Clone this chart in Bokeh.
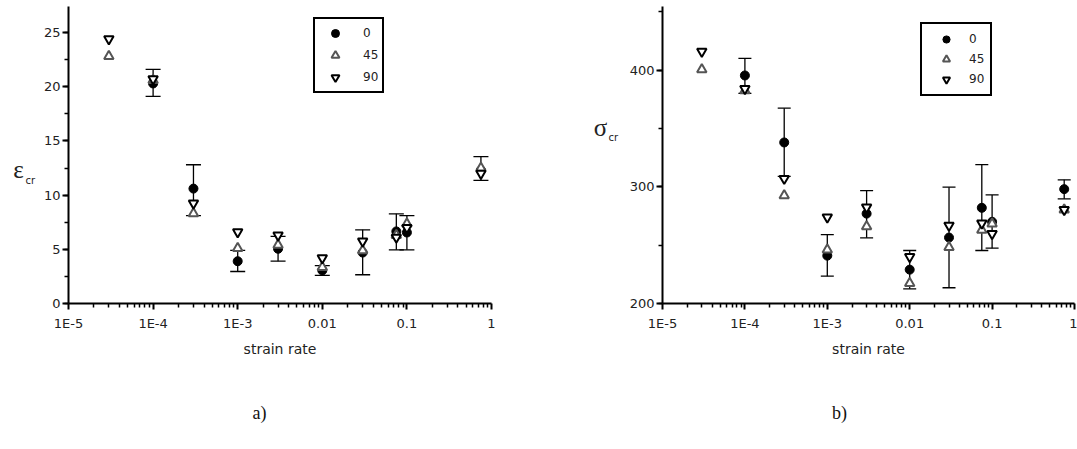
import math
from bokeh.plotting import figure
from bokeh.layouts import row, column
from bokeh.models import (ColumnDataSource, Whisker, TeeHead, Label, FixedTicker,
                          SingleIntervalTicker, CustomJSTickFormatter, Range1d)
from bokeh.embed import file_html
from bokeh.resources import INLINE

nan = float("nan")

# ---------------- data ----------------
strain_rate = [3e-5, 1e-4, 3e-4, 1e-3, 3e-3, 1e-2, 3e-2, 7.5e-2, 1e-1, 0.75]
series_labels = ["0", "45", "90"]
x_tick_values = [1e-5, 1e-4, 1e-3, 1e-2, 1e-1, 1.0]
x_tick_labels = ["1E-5", "1E-4", "1E-3", "0.01", "0.1", "1"]

# panel a) critical strain
eps_0 = [nan, 20.3, 10.6, 3.9, 5.05, 3.05, 4.7, 6.65, 6.55, 12.3]
eps_0_lo = [nan, 19.1, 8.1, 2.95, 3.9, 2.6, 2.65, 4.95, 4.95, 11.35]
eps_0_hi = [nan, 21.6, 12.8, 4.9, 6.2, 3.5, 6.8, 8.27, 8.1, 13.55]
eps_45 = [22.8, 20.6, 8.3, 5.1, 5.4, 3.35, 4.9, 6.3, 7.35, 12.5]
eps_90 = [24.4, 20.7, 9.25, 6.6, 6.3, 4.2, 5.75, 6.1, 7.0, 12.0]

# panel b) critical stress
sig_0 = [nan, 395.4, 338.0, 241.0, 277.0, 229.0, 256.5, 282.0, 270.0, 298.0]
sig_0_lo = [nan, 380.0, 309.0, 223.4, 256.3, 212.6, 213.5, 245.4, 247.4, 289.7]
sig_0_hi = [nan, 410.0, 367.4, 259.0, 296.8, 245.4, 299.7, 319.0, 293.0, 306.0]
sig_45 = [400.5, 382.5, 292.5, 246.0, 266.0, 217.4, 248.3, 263.0, 268.3, 280.3]
sig_90 = [416.0, 384.0, 307.0, 274.0, 282.5, 240.0, 266.8, 268.8, 259.7, 280.3]

TICK_FONT = "DejaVu Sans"
TXT = "#222222"
TOP, FRAME_H, BOTTOM = 6, 297, 67


def blank(width, height, bt=0, bb=0):
    f = figure(width=width, height=height, output_backend="svg", toolbar_location=None,
               x_axis_location=None, y_axis_location=None,
               min_border_left=0, min_border_right=0, min_border_top=bt, min_border_bottom=bb,
               x_range=Range1d(0, 1), y_range=Range1d(0, 1),
               background_fill_color="white", border_fill_color="white")
    f.outline_line_color = None
    f.xgrid.visible = False
    f.ygrid.visible = False
    return f


def ylabel_fig(width, sym, sym_pos, sub_pos):
    f = blank(width, TOP + FRAME_H + BOTTOM, TOP, BOTTOM)
    f.add_layout(Label(x=sym_pos[0], y=sym_pos[1], x_units="screen", y_units="screen",
                       text=sym, text_font="Liberation Serif", text_font_size="25px",
                       text_align="center", text_baseline="middle", text_color=TXT))
    f.add_layout(Label(x=sub_pos[0], y=sub_pos[1], x_units="screen", y_units="screen",
                       text="cr", text_font=TICK_FONT, text_font_size="10px",
                       text_align="left", text_baseline="middle", text_color=TXT))
    return f


def panel(y0, ylo, yhi, y45, y90, yrange, ytick, frame_w, bl, br,
          leg_loc, leg_pad, leg_gw, leg_gh, leg_st, cap_size):
    p = figure(x_axis_type="log", output_backend="svg", toolbar_location=None,
               frame_width=frame_w, frame_height=FRAME_H,
               min_border_left=bl, min_border_right=br,
               min_border_top=TOP, min_border_bottom=BOTTOM,
               x_range=Range1d(1e-5, 1.0), y_range=Range1d(*yrange),
               background_fill_color="white", border_fill_color="white")
    p.outline_line_color = None
    p.xgrid.visible = False
    p.ygrid.visible = False

    minor = [k * 10.0 ** d for d in range(-5, 0) for k in range(2, 10)]
    p.xaxis.ticker = FixedTicker(ticks=x_tick_values, minor_ticks=minor)
    p.xaxis.formatter = CustomJSTickFormatter(
        args=dict(labels=x_tick_labels),
        code="return labels[Math.round(Math.log10(tick)) + 5];")
    p.yaxis.ticker = SingleIntervalTicker(interval=ytick, num_minor_ticks=2)

    for ax in (p.xaxis[0], p.yaxis[0]):
        ax.axis_line_width = 2
        ax.axis_line_color = "black"
        ax.major_tick_line_width = 2
        ax.major_tick_out = 6
        ax.major_tick_in = 0
        ax.minor_tick_out = 4
        ax.minor_tick_in = 0
        ax.minor_tick_line_width = 1.5
        ax.major_label_text_font = TICK_FONT
        ax.major_label_text_font_size = "13px"
        ax.major_label_text_color = TXT
    p.yaxis.major_label_standoff = 2
    p.xaxis.major_label_standoff = 6
    p.xaxis.axis_label = "strain rate"
    p.xaxis.axis_label_text_font = TICK_FONT
    p.xaxis.axis_label_text_font_style = "normal"
    p.xaxis.axis_label_text_font_size = "14px"
    p.xaxis.axis_label_text_color = TXT
    p.xaxis.axis_label_standoff = 7

    # error bars for series 0
    keep = [i for i, v in enumerate(y0) if not math.isnan(v)]
    wsrc = ColumnDataSource(dict(x=[strain_rate[i] for i in keep],
                                 lo=[ylo[i] for i in keep],
                                 hi=[yhi[i] for i in keep]))
    w = Whisker(base="x", lower="lo", upper="hi", source=wsrc, dimension="height",
                line_color="black", line_width=1.3,
                upper_head=TeeHead(size=cap_size, line_color="black", line_width=1.3),
                lower_head=TeeHead(size=cap_size, line_color="black", line_width=1.3))
    p.add_layout(w)

    src = ColumnDataSource(dict(x=strain_rate, a=y0, b=y45, c=y90))
    p.scatter("x", "a", source=src, marker="circle", size=9,
              fill_color="black", line_color="black", legend_label=series_labels[0])
    p.scatter("x", "b", source=src, marker="triangle", size=9.5,
              fill_color="white", line_color="#555555", line_width=2,
              legend_label=series_labels[1])
    p.scatter("x", "c", source=src, marker="inverted_triangle", size=9.5,
              fill_color="white", line_color="black", line_width=2,
              legend_label=series_labels[2])

    lg = p.legend[0]
    lg.location = leg_loc
    lg.border_line_color = "black"
    lg.border_line_alpha = 1.0
    lg.border_line_width = 2
    lg.background_fill_color = "white"
    lg.background_fill_alpha = 1
    lg.label_text_font = TICK_FONT
    lg.label_text_font_size = "12px"
    lg.label_text_color = TXT
    lg.padding = leg_pad
    lg.spacing = 2
    lg.margin = 0
    lg.glyph_width = leg_gw
    lg.glyph_height = leg_gh
    lg.label_height = leg_gh
    lg.label_standoff = leg_st
    lg.label_width = 14
    return p


# frame bottom at page y 303, frame top at 6 -> 297 px
p1 = panel(eps_0, eps_0_lo, eps_0_hi, eps_45, eps_90, (0, 297 / 10.84), 5,
           423, 28, 97, (245, 210), 4, 32, 20, 12, 15)
p2 = panel(sig_0, sig_0_lo, sig_0_hi, sig_45, sig_90, (200, 200 + 297 / 1.167), 100,
           412, 40, 3, (258, 207), 6, 36, 18, 5, 13)

lab1 = ylabel_fig(40, "ε", (18, 134), (25, 123))
lab2 = ylabel_fig(34, "σ", (12, 176), (20, 166))

cap = blank(1077, 70)
cap.add_layout(Label(x=259, y=28, x_units="screen", y_units="screen", text="a)",
                     text_font="Liberation Serif", text_font_size="18px",
                     text_align="center", text_baseline="middle", text_color="#111111"))
cap.add_layout(Label(x=839, y=28, x_units="screen", y_units="screen", text="b)",
                     text_font="Liberation Serif", text_font_size="18px",
                     text_align="center", text_baseline="middle", text_color="#111111"))

layout = column(row(lab1, p1, lab2, p2), cap)
open("out.html", "w").write(file_html(layout, INLINE, title="strain rate"))
